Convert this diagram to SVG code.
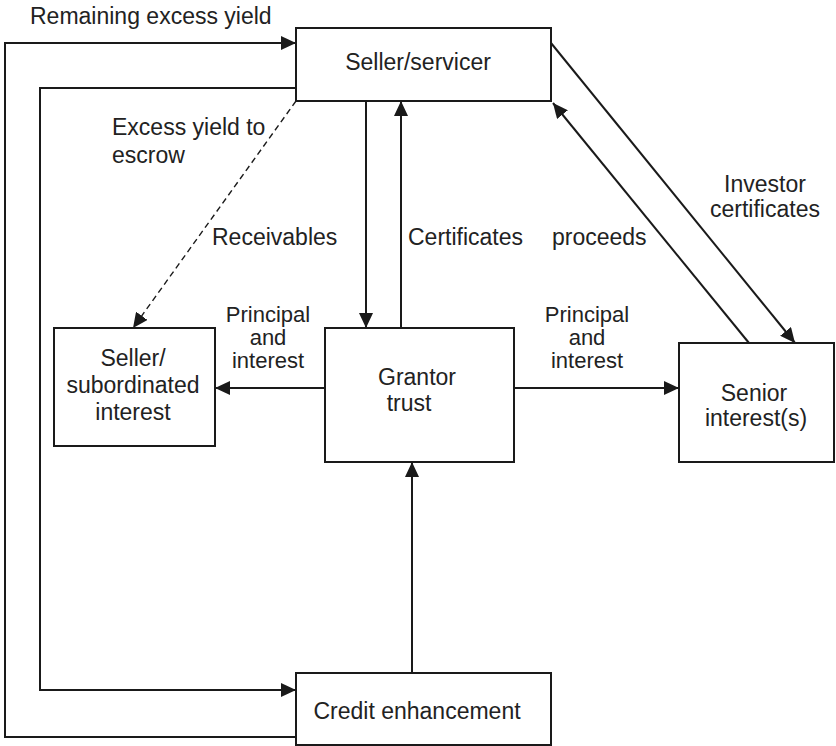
<svg xmlns="http://www.w3.org/2000/svg" width="836" height="746" viewBox="0 0 836 746">
  <defs>
    <marker id="arrow" markerUnits="userSpaceOnUse" markerWidth="16" markerHeight="14" refX="15" refY="7" orient="auto">
      <path d="M0,0 L15,7 L0,14 z" fill="#1a1a1a"/>
    </marker>
    <style>
      .box { fill: #fff; stroke: #1a1a1a; stroke-width: 2; }
      .link { fill: none; stroke: #1a1a1a; stroke-width: 2; marker-end: url(#arrow); }
      .dashed { stroke-width: 1.4; stroke-dasharray: 6 4; }
      text { font-family: "Liberation Sans", Arial, sans-serif; font-size: 23px; fill: #222; }
      .c { text-anchor: middle; }
      .tight { font-size: 22px; }
    </style>
  </defs>
  <rect width="836" height="746" fill="#fff"/>

  <!-- connectors -->
  <g id="connectors">
    <path class="link" d="M296,737 H5 V43 H296"/>
    <path class="link" d="M296,88 H40 V690 H296"/>
    <path class="link" d="M366,101 V328"/>
    <path class="link" d="M401,328 V101"/>
    <path class="link dashed" d="M296,101 L133,328"/>
    <path class="link" d="M325,388 H215"/>
    <path class="link" d="M514,388 H679"/>
    <path class="link" d="M551,43 L795,343"/>
    <path class="link" d="M749,343 L553,103"/>
    <path class="link" d="M412,673 V462"/>
  </g>

  <!-- connector labels -->
  <g id="labels">
    <text x="30" y="24">Remaining excess yield</text>
    <text x="112" y="135">Excess yield to</text>
    <text x="112" y="163">escrow</text>
    <text x="212" y="245">Receivables</text>
    <text x="408" y="245">Certificates</text>
    <text x="552" y="245">proceeds</text>
    <text class="c" x="765" y="192">Investor</text>
    <text class="c" x="765" y="217">certificates</text>
    <text class="c tight" x="268" y="322">Principal</text>
    <text class="c tight" x="268" y="345">and</text>
    <text class="c tight" x="268" y="368">interest</text>
    <text class="c tight" x="587" y="322">Principal</text>
    <text class="c tight" x="587" y="345">and</text>
    <text class="c tight" x="587" y="368">interest</text>
  </g>

  <!-- nodes -->
  <g id="seller-servicer">
    <rect class="box" x="296" y="28" width="255" height="73"/>
    <text class="c" x="418" y="70">Seller/servicer</text>
  </g>
  <g id="seller-subordinated">
    <rect class="box" x="54" y="328" width="161" height="118"/>
    <text class="c" x="133" y="366">Seller/</text>
    <text class="c" x="133" y="393">subordinated</text>
    <text class="c" x="133" y="420">interest</text>
  </g>
  <g id="grantor-trust">
    <rect class="box" x="325" y="328" width="189" height="134"/>
    <text class="c" x="417" y="385">Grantor</text>
    <text class="c" x="409" y="411">trust</text>
  </g>
  <g id="senior-interests">
    <rect class="box" x="679" y="343" width="155" height="119"/>
    <text class="c" x="754" y="401">Senior</text>
    <text class="c" x="756" y="426">interest(s)</text>
  </g>
  <g id="credit-enhancement">
    <rect class="box" x="296" y="673" width="255" height="72"/>
    <text class="c" x="417" y="719">Credit enhancement</text>
  </g>
</svg>
